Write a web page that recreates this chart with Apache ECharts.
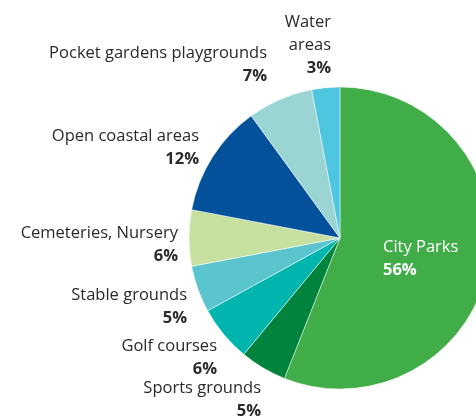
<!DOCTYPE html>
<html>
<head>
<meta charset="utf-8">
<script src="https://cdn.jsdelivr.net/npm/echarts@6/dist/echarts.min.js"></script>
<style>
  html, body { margin: 0; padding: 0; background: #fff; }
  #chart { width: 476px; height: 416px; }
</style>
</head>
<body>
<div id="chart"></div>
<script>
// Green space categories, clockwise from 12 o'clock
const categories = [
  'City Parks', 'Sports grounds', 'Golf courses', 'Stable grounds',
  'Cemeteries, Nursery', 'Open coastal areas', 'Pocket gardens playgrounds', 'Water areas'
];
const shares = [56, 5, 6, 5, 6, 12, 7, 3];
// How each name wraps in its label
const labelNames = [
  'City Parks', 'Sports grounds', 'Golf courses', 'Stable grounds',
  'Cemeteries, Nursery', 'Open coastal areas', 'Pocket gardens playgrounds', 'Water\nareas'
];

const colors = ['#41ad49', '#00843d', '#00b5ad', '#5bc5cf', '#c6e0a0', '#03519b', '#9bd5d3', '#4ec6e0'];

// Label anchors: [x, y of the first line's top, align]
const labelAnchors = [
  [383, 236, 'left'],
  [261, 377, 'right'],
  [217, 335, 'right'],
  [187, 284, 'right'],
  [178, 222, 'right'],
  [199, 125, 'right'],
  [267, 42, 'right'],
  [331, 11, 'right']
];

const FONT = 'Open Sans';
const SIZE = 16.5;
const LINE = 23;

const chart = echarts.init(document.getElementById('chart'), null, { renderer: 'canvas' });

const data = categories.map((c, i) => {
  const nameText = labelNames[i].split('\n').map(s => '{n|' + s + '}').join('\n');
  const white = i === 0;
  const txt = white ? '#ffffff' : '#2a2a2a';
  return {
    name: c,
    value: shares[i],
    itemStyle: { color: colors[i] },
    label: {
      formatter: nameText + '\n{p|' + shares[i] + '%}',
      align: labelAnchors[i][2],
      rich: {
        n: { fontFamily: FONT, fontSize: SIZE, lineHeight: LINE, color: txt, align: labelAnchors[i][2] },
        p: { fontFamily: FONT, fontSize: SIZE, lineHeight: LINE, fontWeight: 'bold', color: txt, align: labelAnchors[i][2] }
      }
    }
  };
});

chart.setOption({
  animation: false,
  backgroundColor: '#ffffff',
  series: [{
    type: 'pie',
    center: [340, 238],
    radius: [0, 151],
    startAngle: 90,
    clockwise: true,
    avoidLabelOverlap: false,
    itemStyle: { borderColor: '#ffffff', borderWidth: 0.5 },
    label: { show: true, position: 'outside' },
    labelLine: { show: false },
    labelLayout: function (params) {
      const a = labelAnchors[params.dataIndex];
      return { x: a[0], y: a[1], align: a[2], verticalAlign: 'top', hideOverlap: false };
    },
    emphasis: { disabled: true },
    data: data
  }]
});
</script>
</body>
</html>
